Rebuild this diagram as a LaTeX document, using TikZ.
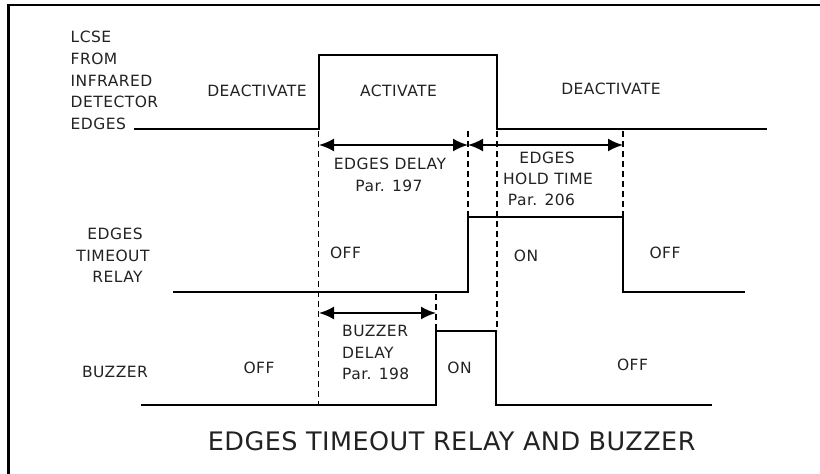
\documentclass[tikz,border=0pt]{standalone}
\usepackage{fontspec}
\setmainfont{DejaVu Sans}
\newfontfamily\lblfont[LetterSpace=3]{DejaVu Sans}
\newfontfamily\ttlfont[LetterSpace=1.8]{DejaVu Sans}
\usetikzlibrary{arrows.meta}
\definecolor{txt}{HTML}{222222}
\begin{document}
\begin{tikzpicture}[x=1pt,y=-1pt,
  lbl/.style={font=\lblfont\fontsize{15.5}{18}\selectfont, text=txt, inner sep=0pt},
  ttl/.style={font=\ttlfont\fontsize{25.5}{30}\selectfont, text=txt, inner sep=0pt},
  wave/.style={line width=2pt, line join=miter},
  dsh/.style={line width=1.6pt, dash pattern=on 6pt off 4pt},
  dim/.style={line width=2pt, {Latex[length=15pt,width=13pt]}-{Latex[length=15pt,width=13pt]}}]
\useasboundingbox (0,0) rectangle (820,474);
\clip (0,0) rectangle (820,474);
% frame
\draw[line width=2.8pt] (8.7,490) -- (8.7,5) -- (840,5);
% waveforms
\draw[wave] (134,129) -- (319,129) -- (319,54.5) -- (497,54.5) -- (497,128.5) -- (767,128.5);
\draw[wave] (173,292) -- (468,292) -- (468,217) -- (623,217) -- (623,292) -- (745,292);
\draw[wave] (141,405) -- (436,405) -- (436,331) -- (496,331) -- (496,405) -- (712,405);
% dashed guides
\draw[dsh] (318.5,131) -- (318.5,405);
\draw[dsh] (468,131) -- (468,217);
\draw[dsh] (497,131) -- (497,331);
\draw[dsh] (623,131) -- (623,217);
\draw[dsh] (436,294) -- (436,331);
% dimension arrows
\coordinate (d1) at (319,145);
\coordinate (d2) at (468,145);
\coordinate (d3) at (623,145);
\coordinate (b1) at (319,313);
\coordinate (b2) at (436,313);
\draw[dim] (d1) -- (d2);
\draw[dim] (d2) -- (d3);
\draw[dim] (b1) -- (b2);
% left labels
\node[lbl, anchor=west] (l1) at (70.5,37) {LCSE};
\node[lbl, anchor=west] (l2) at (70.5,58.5) {FROM};
\node[lbl, anchor=west] (l3) at (70.5,80.5) {INFRARED};
\node[lbl, anchor=west] (l4) at (70.5,102) {DETECTOR};
\node[lbl, anchor=west] (l5) at (70.5,124) {EDGES};
\node[lbl] (r1) at (115,234) {EDGES};
\node[lbl] (r2) at (113,255.5) {TIMEOUT};
\node[lbl] (r3) at (117.5,276.5) {RELAY};
\node[lbl] (bz) at (115,371.5) {BUZZER};
% state labels
\node[lbl] (s1) at (257,91) {DEACTIVATE};
\node[lbl] (s2) at (398.5,91) {ACTIVATE};
\node[lbl] (s3) at (611,89) {DEACTIVATE};
\node[lbl] (ed1) at (390,164) {EDGES DELAY};
\node[lbl] (ed2) at (389,186) {Par. 197};
\node[lbl] (h1) at (547,157.5) {EDGES};
\node[lbl] (h2) at (548,178.5) {HOLD TIME};
\node[lbl] (h3) at (541.5,199.5) {Par. 206};
\node[lbl] (o1) at (345.5,252.5) {OFF};
\node[lbl] (o2) at (526,256) {ON};
\node[lbl] (o3) at (665,252.5) {OFF};
\node[lbl] (o4) at (259,368) {OFF};
\node[lbl, anchor=west] (bd1) at (342,331) {BUZZER};
\node[lbl, anchor=west] (bd2) at (342,353) {DELAY};
\node[lbl, anchor=west] (bd3) at (342,373.5) {Par. 198};
\node[lbl] (o5) at (459.5,368) {ON};
\node[lbl] (o6) at (632.5,365) {OFF};
% title
\node[ttl] (title) at (451.7,441) {EDGES TIMEOUT RELAY AND BUZZER};
\end{tikzpicture}
\end{document}
